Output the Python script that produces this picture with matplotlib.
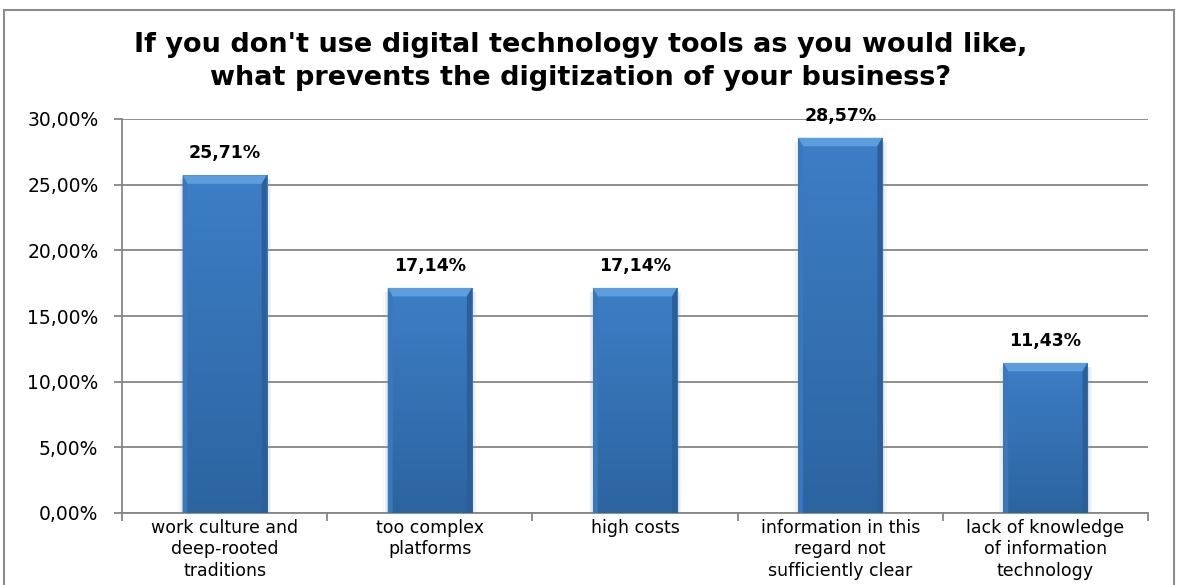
import numpy as np
import matplotlib.pyplot as plt
from matplotlib.patches import Rectangle, Polygon

categories = [
    'work culture and\ndeep-rooted\ntraditions',
    'too complex\nplatforms',
    'high costs',
    'information in this\nregard not\nsufficiently clear',
    'lack of knowledge\nof information\ntechnology',
]
values = [25.71, 17.14, 17.14, 28.57, 11.43]
yticks = [0, 5, 10, 15, 20, 25, 30]

title_lines = ["If you don't use digital technology tools as you would like,",
               "what prevents the digitization of your business?"]


def pct(v):
    return f'{v:.2f}'.replace('.', ',') + '%'


W, H = 1181, 585
fig = plt.figure(figsize=(W / 100, H / 100), dpi=100)
ax = fig.add_axes([122 / W, 1 - 513 / H, 1026 / W, 394 / H])

# outer frame of the chart
fig.patches.append(Rectangle((4 / W, -0.05), 1170 / W, 1.05 - 10 / H,
                             transform=fig.transFigure, fill=False,
                             edgecolor='#8c8c8c', linewidth=1.5))

x = np.arange(len(values))
width = 0.41
bars = ax.bar(x, values, width=width, color='#3775bc', zorder=3)

# vertical shading: lighter at the top, darker at the bottom
top_c = np.array([0x3d, 0x7e, 0xc6]) / 255
bot_c = np.array([0x2c, 0x64, 0xa0]) / 255
t = np.linspace(0, 1, 128)[:, None, None]
img = top_c[None, None, :] * (1 - t) + bot_c[None, None, :] * t

bx = 0.024   # bevel width in data units
by = 0.65    # bevel height in data units
for b in bars:
    x0, w, h = b.get_x(), b.get_width(), b.get_height()
    x1 = x0 + w
    # soft shadow on both sides
    for k, a in enumerate([0.35, 0.2, 0.1]):
        ax.add_patch(Rectangle((x1 + k * 0.007, 0), 0.007, h - 0.3,
                               color='#9a9a9a', alpha=a, zorder=2, lw=0))
        ax.add_patch(Rectangle((x0 - (k + 1) * 0.007, 0), 0.007, h - 0.3,
                               color='#9a9a9a', alpha=a * 0.6, zorder=2, lw=0))
    im = ax.imshow(img, extent=(x0, x1, 0, h), aspect='auto', zorder=4)
    im.set_clip_path(b)
    # bevelled edges
    ax.add_patch(Polygon([(x0, h), (x1, h), (x1 - bx, h - by), (x0 + bx, h - by)],
                         closed=True, color='#5c9ddd', zorder=5, lw=0))
    ax.add_patch(Polygon([(x0, 0), (x0, h), (x0 + bx, h - by), (x0 + bx, 0)],
                         closed=True, color='#3a78bd', zorder=5, lw=0))
    ax.add_patch(Polygon([(x1, 0), (x1, h), (x1 - bx, h - by), (x1 - bx, 0)],
                         closed=True, color='#2a5f9a', zorder=5, lw=0))
    ax.text(x0 + w / 2, h + 1.3, pct(h), ha='center', va='baseline',
            fontsize=12.5, fontweight='bold', family='DejaVu Sans', zorder=6)

ax.set_xlim(-0.5, len(values) - 0.5)
ax.set_ylim(0, 30)
ax.set_yticks(yticks)
ax.set_yticklabels([pct(v) for v in yticks], fontsize=13.5, family='DejaVu Sans')
ax.yaxis.grid(True, color='#868686', linewidth=1.3, zorder=0)
ax.set_axisbelow(True)

ax.set_xticks(x)
ax.set_xticklabels(categories, fontsize=12.5, family='DejaVu Sans',
                   linespacing=1.25)
ax.tick_params(axis='x', length=0, pad=4)
ax.set_xticks(np.arange(-0.5, len(values)), minor=True)
ax.tick_params(axis='x', which='minor', length=6, color='#868686', width=1.3)
ax.tick_params(axis='y', length=6, color='#868686', width=1.3, pad=11)

for side in ('top', 'right'):
    ax.spines[side].set_visible(False)
for side in ('left', 'bottom'):
    ax.spines[side].set_color('#868686')
    ax.spines[side].set_linewidth(1.3)

for line, base in zip(title_lines, [52, 85]):
    fig.text(581 / W, 1 - base / H, line, ha='center', va='baseline',
             fontsize=19.5, fontweight='bold', family='DejaVu Sans')

fig.savefig('out.png', dpi=100)
